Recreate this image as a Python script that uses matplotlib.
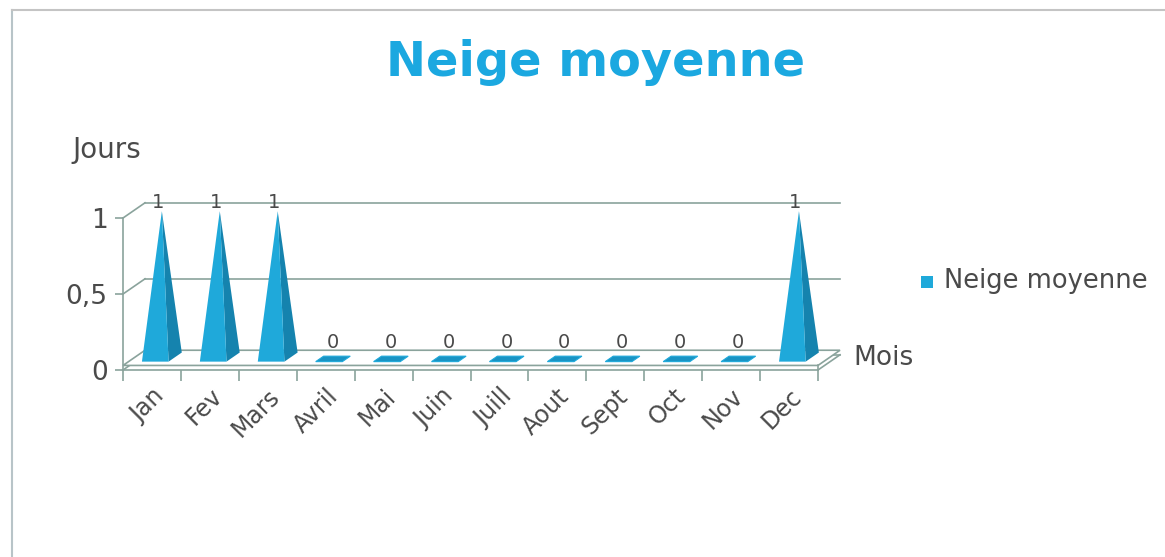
import matplotlib.pyplot as plt
from matplotlib.patches import Polygon
from matplotlib.lines import Line2D

# Data
months = ["Jan", "Fev", "Mars", "Avril", "Mai", "Juin",
          "Juill", "Aout", "Sept", "Oct", "Nov", "Dec"]
snow_days = [1, 1, 1, 0, 0, 0, 0, 0, 0, 0, 0, 1]
y_ticks = [0, 0.5, 1]
y_tick_labels = ["0", "0,5", "1"]
series_name = "Neige moyenne"

# Colours
face_col = "#1fa9da"
side_col = "#1583ae"
grid_col = "#8aa39c"
text_col = "#4a4a4a"
title_col = "#1ba8e0"

# pseudo-3D depth (data units)
DX = 0.38
DY = 0.10

fig = plt.figure(figsize=(11.65, 5.57), dpi=100)
ax = fig.add_axes([123 / 1165, (557 - 370) / 557, 695 / 1165, 152 / 557])
ax.set_xlim(0, len(months))
ax.set_ylim(0, 1)
for s in ["top", "right"]:
    ax.spines[s].set_visible(False)
ax.spines["left"].set_color(grid_col)
ax.spines["left"].set_linewidth(1.2)

# y axis
ax.set_yticks(y_ticks)
ax.set_yticklabels(y_tick_labels, fontsize=19, color=text_col)
ax.tick_params(axis="y", length=6, color=grid_col, width=1.2, pad=5)

# x axis: labels at centres, tick marks at boundaries
n = len(months)
ax.set_xticks([i + 0.5 for i in range(n)])
ax.set_xticklabels(months, rotation=45, ha="right", va="top",
                   rotation_mode="anchor", fontsize=17, color=text_col)
ax.tick_params(axis="x", length=0, pad=10)
ax.set_xticks(range(n + 1), minor=True)
ax.tick_params(axis="x", which="minor", length=8, color=grid_col, width=1.2)
ax.spines["bottom"].set_color(grid_col)
ax.spines["bottom"].set_linewidth(1.2)
for lbl in ax.get_xticklabels():
    lbl.set_x(lbl.get_position()[0])

# back wall gridlines + left wall diagonals
for yv in y_ticks:
    ax.add_line(Line2D([0, DX], [yv, yv + DY], color=grid_col, lw=1.2, clip_on=False))
    ax.add_line(Line2D([DX, n + DX], [yv + DY, yv + DY], color=grid_col, lw=1.2,
                       clip_on=False, zorder=1))

# floor slab
floor = Polygon([[0, 0.03], [n, 0.03], [n + DX, DY + 0.03], [DX, DY + 0.03]],
                closed=True, facecolor="white", edgecolor=grid_col, lw=1.2,
                clip_on=False, zorder=2)
ax.add_patch(floor)
ax.add_line(Line2D([n, n], [0, 0.03], color=grid_col, lw=1.2, clip_on=False))
ax.add_line(Line2D([n, n + DX], [0, DY], color=grid_col, lw=1.2, clip_on=False))

# pyramids
w = 0.46
f0, f1 = 0.15, 0.75
base = 0.04
for i, v in enumerate(snow_days):
    c = i + 0.5
    xl = c - w / 2 + f0 * DX
    xr = c + w / 2 + f0 * DX
    yb = base + f0 * DY
    if v > 0:
        fm = (f0 + f1) / 2
        apex = [c + fm * DX, v + fm * DY]
        back_r = [c + w / 2 + f1 * DX, base + f1 * DY]
        ax.add_patch(Polygon([[xl, yb], [xr, yb], apex], closed=True,
                             facecolor=face_col, edgecolor="none",
                             clip_on=False, zorder=4))
        ax.add_patch(Polygon([[xr, yb], back_r, apex], closed=True,
                             facecolor=side_col, edgecolor="none",
                             clip_on=False, zorder=3))
        ax.text(apex[0] - 0.07, v + DY, str(v), ha="center", va="center",
                fontsize=14, color=text_col, clip_on=False, zorder=5)
    else:
        k = (f1 - f0) * 0.6
        tile = [[xl, yb], [xr, yb], [xr + k * DX, yb + k * DY],
                [xl + k * DX, yb + k * DY]]
        ax.add_patch(Polygon(tile, closed=True, facecolor="#1894c4",
                             edgecolor=face_col, lw=0.8, clip_on=False, zorder=4))
        ax.text(c + 0.5 * DX - 0.07, v + DY + 0.08, str(v), ha="center",
                va="center", fontsize=14, color=text_col, clip_on=False, zorder=5)

# axis titles
fig.text(72 / 1165, 1 - 150 / 557, "Jours", fontsize=20, color=text_col,
         ha="left", va="center")
fig.text(853 / 1165, 1 - 358 / 557, "Mois", fontsize=19, color=text_col,
         ha="left", va="center")

# title
fig.text(596 / 1165, 1 - 62 / 557, series_name, fontsize=34.5, fontweight="bold",
         color=title_col, ha="center", va="center")

# legend
fig.patches.append(plt.Rectangle((921 / 1165, 1 - 288 / 557), 12 / 1165, 12 / 557,
                                 transform=fig.transFigure, facecolor=face_col,
                                 edgecolor="none"))
fig.text(944 / 1165, 1 - 281 / 557, series_name, fontsize=18.5, color=text_col,
         ha="left", va="center")

# chart frame (left and top edges)
fig.add_artist(Line2D([12 / 1165, 12 / 1165], [0, 1 - 10 / 557],
                      transform=fig.transFigure, color="#b8c4c8", lw=1.5))
fig.add_artist(Line2D([12 / 1165, 1], [1 - 10 / 557, 1 - 10 / 557],
                      transform=fig.transFigure, color="#c4c4c4", lw=1.5))

fig.savefig("out.png", dpi=100, facecolor="white")
